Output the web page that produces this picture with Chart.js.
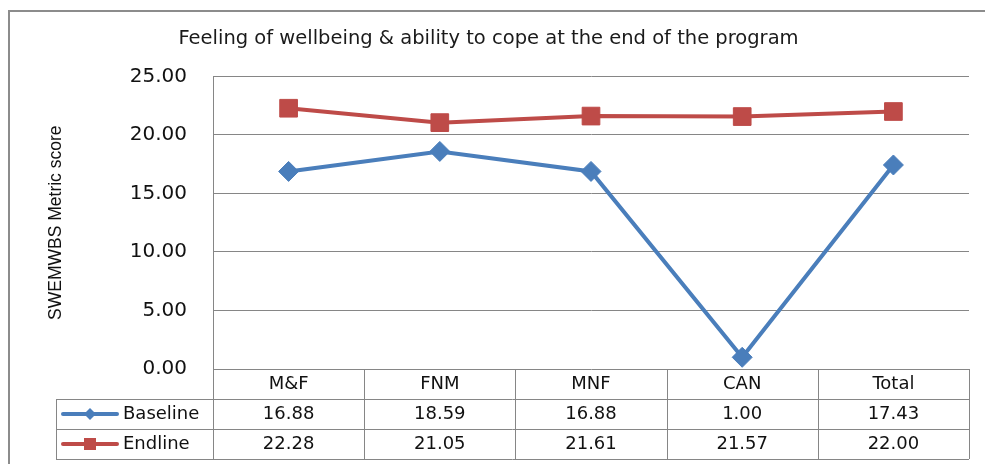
<!DOCTYPE html>
<html>
<head>
<meta charset="utf-8">
<script src="https://cdn.jsdelivr.net/npm/chart.js@4.4.0/dist/chart.umd.min.js"></script>
<style>
  body { margin: 0; background: #fff; }
</style>
</head>
<body>
<canvas id="myChart" width="985" height="464"></canvas>
<script>
const categories = ['M&F', 'FNM', 'MNF', 'CAN', 'Total'];
const baseline = [16.88, 18.59, 16.88, 1.00, 17.43];
const endline = [22.28, 21.05, 21.61, 21.57, 22.00];
const yTicks = [0, 5, 10, 15, 20, 25];

const blue = '#4A7EBB';
const red = '#BE4B48';
const gridColor = '#868686';

// data table under the plot, Excel style
const dataTable = {
    id: 'dataTable',
    beforeDraw(chart) {
        const c = chart.ctx;
        c.save();
        c.strokeStyle = '#8c8c8c';
        c.lineWidth = 2;
        c.strokeRect(9, 11, 1000, 500);
        c.restore();
    },
    afterDraw(chart) {
        const c = chart.ctx;
        const x = chart.scales.x;
        const area = chart.chartArea;
        const rowH = 30;
        const top = area.bottom;
        const legLeft = 56;
        const colW = (x.right - x.left) / categories.length;

        c.save();
        c.strokeStyle = gridColor;
        c.lineWidth = 1;
        c.beginPath();
        // vertical lines in header + rows
        for (let i = 0; i <= categories.length; i++) {
            const px = Math.round(x.left + i * colW) + 0.5;
            c.moveTo(px, top);
            c.lineTo(px, top + 3 * rowH);
        }
        // row lines
        for (let r = 1; r <= 3; r++) {
            const py = Math.round(top + r * rowH) + 0.5;
            c.moveTo(legLeft, py);
            c.lineTo(x.right, py);
        }
        c.moveTo(legLeft + 0.5, top + rowH);
        c.lineTo(legLeft + 0.5, top + 3 * rowH);
        c.stroke();

        c.fillStyle = '#111';
        c.font = '18px "DejaVu Sans"';
        c.textAlign = 'center';
        c.textBaseline = 'middle';
        categories.forEach((cat, i) => {
            const cx = x.getPixelForValue(i);
            c.fillText(cat, cx, top + rowH / 2);
            c.fillText(baseline[i].toFixed(2), cx, top + rowH * 1.5);
            c.fillText(endline[i].toFixed(2), cx, top + rowH * 2.5);
        });

        // legend keys
        const keys = [
            { label: 'Baseline', color: blue, style: 'diamond', y: top + rowH * 1.5 },
            { label: 'Endline', color: red, style: 'square', y: top + rowH * 2.5 }
        ];
        keys.forEach(k => {
            c.strokeStyle = k.color;
            c.fillStyle = k.color;
            c.lineWidth = 4;
            c.lineCap = 'round';
            c.beginPath();
            c.moveTo(63, k.y);
            c.lineTo(117, k.y);
            c.stroke();
            c.beginPath();
            if (k.style === 'diamond') {
                c.moveTo(90, k.y - 6);
                c.lineTo(96, k.y);
                c.lineTo(90, k.y + 6);
                c.lineTo(84, k.y);
                c.closePath();
            } else {
                c.rect(84, k.y - 6, 12, 12);
            }
            c.fill();
            c.fillStyle = '#111';
            c.textAlign = 'left';
            c.fillText(k.label, 123, k.y);
        });
        c.restore();
    }
};

const ctx = document.getElementById('myChart');
const myChart = new Chart(ctx, {
    type: 'line',
    data: {
        labels: categories,
        datasets: [{
            label: 'Baseline',
            data: baseline,
            borderColor: blue,
            backgroundColor: blue,
            borderWidth: 4,
            pointStyle: 'rectRot',
            pointRadius: 10,
            pointHoverRadius: 10,
            pointBorderWidth: 1
        }, {
            label: 'Endline',
            data: endline,
            borderColor: red,
            backgroundColor: red,
            borderWidth: 4,
            pointStyle: 'rect',
            pointRadius: 12.5,
            pointHoverRadius: 12.5,
            pointBorderWidth: 1
        }]
    },
    options: {
        responsive: false,
        animation: false,
        layout: {
            padding: { top: 10, left: 8, right: 16, bottom: 95 }
        },
        plugins: {
            legend: { display: false },
            tooltip: { enabled: false },
            title: {
                display: true,
                text: 'Feeling of wellbeing & ability to cope at the end of the program',
                color: '#1a1a1a',
                font: { family: 'DejaVu Sans', size: 19.5, weight: 'normal' },
                padding: { top: 17, bottom: 26 }
            }
        },
        scales: {
            x: {
                display: false,
                offset: true
            },
            y: {
                min: yTicks[0],
                max: yTicks[yTicks.length - 1],
                afterBuildTicks: (scale) => {
                    scale.ticks = yTicks.map(v => ({ value: v }));
                },
                afterFit: (scale) => {
                    scale.width = 205;
                },
                ticks: {
                    padding: 26,
                    color: '#111',
                    font: { family: 'DejaVu Sans', size: 20 },
                    callback: (v) => Number(v).toFixed(2)
                },
                grid: {
                    color: gridColor,
                    drawTicks: false
                },
                border: { display: true, color: gridColor },
                title: {
                    display: true,
                    text: 'SWEMWBS Metric score',
                    color: '#111',
                    font: { family: 'Liberation Sans', size: 17.5 },
                    padding: { top: 38, bottom: 0 }
                }
            }
        }
    },
    plugins: [dataTable]
});
</script>
</body>
</html>
